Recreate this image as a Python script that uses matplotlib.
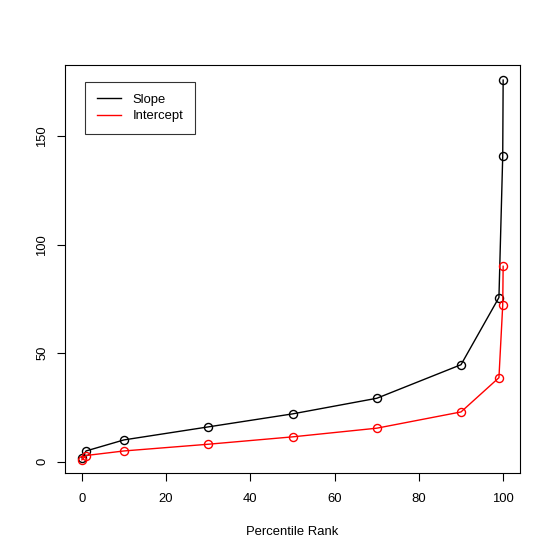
import matplotlib
matplotlib.use("Agg")
import matplotlib.pyplot as plt
from matplotlib.lines import Line2D
import numpy as np

plt.rcParams['font.family'] = ['Liberation Sans', 'DejaVu Sans']

percentile = [0, 1, 10, 30, 50, 70, 90, 99, 99.9, 100]
slope = [1.7, 4.9, 10.0, 16.0, 22.0, 29.2, 44.7, 75.7, 141, 176]
intercept = [0.8, 2.8, 4.9, 8.0, 11.4, 15.4, 22.9, 38.7, 72.2, 90.1]
xticks = [0, 20, 40, 60, 80, 100]
yticks = [0, 50, 100, 150]

FS = 9.4
fig = plt.figure(figsize=(5.54, 5.54), dpi=100)
L, R, T, B = 65, 520, 65, 473
ax = fig.add_axes([L/554, 1-B/554, (R-L)/554, (B-T)/554])

ax.plot(percentile, slope, color='black', lw=1, marker='o', mfc='none', mec='black', ms=5.8, mew=1)
ax.plot(percentile, intercept, color='red', lw=1, marker='o', mfc='none', mec='red', ms=5.8, mew=1)

allx = np.array(percentile)
sy = np.array(slope)
xr = allx.max() - allx.min()
yr = sy.max() - sy.min()
ax.set_xlim(allx.min() - 0.04*xr, allx.max() + 0.04*xr)
ax.set_ylim(sy.min() - 0.04*yr, sy.max() + 0.04*yr)
ax.set_xticks(xticks)
ax.set_yticks(yticks)
ax.set_yticklabels([str(v) for v in yticks], rotation=90, va='center')
ax.tick_params(direction='out', length=5.5, width=0.8, labelsize=FS)
ax.tick_params(axis='x', pad=8.7)
ax.tick_params(axis='y', pad=6.5)
for s in ax.spines.values():
    s.set_linewidth(0.8)
ax.set_xlabel('Percentile Rank', fontsize=FS, labelpad=15.5)

handles = [Line2D([], [], color='black', lw=1), Line2D([], [], color='red', lw=1)]
leg = ax.legend(handles, ['Slope', 'Intercept'], loc='upper left',
                bbox_to_anchor=((85.3-L)/(R-L), (B-82)/(B-T)), frameon=True, fancybox=False,
                edgecolor='black', fontsize=FS, handlelength=1.8, borderpad=0.9, labelspacing=0.32,
                handletextpad=0.9, borderaxespad=0)
leg.get_frame().set_linewidth(0.8)

fig.savefig('out.png', dpi=100)
